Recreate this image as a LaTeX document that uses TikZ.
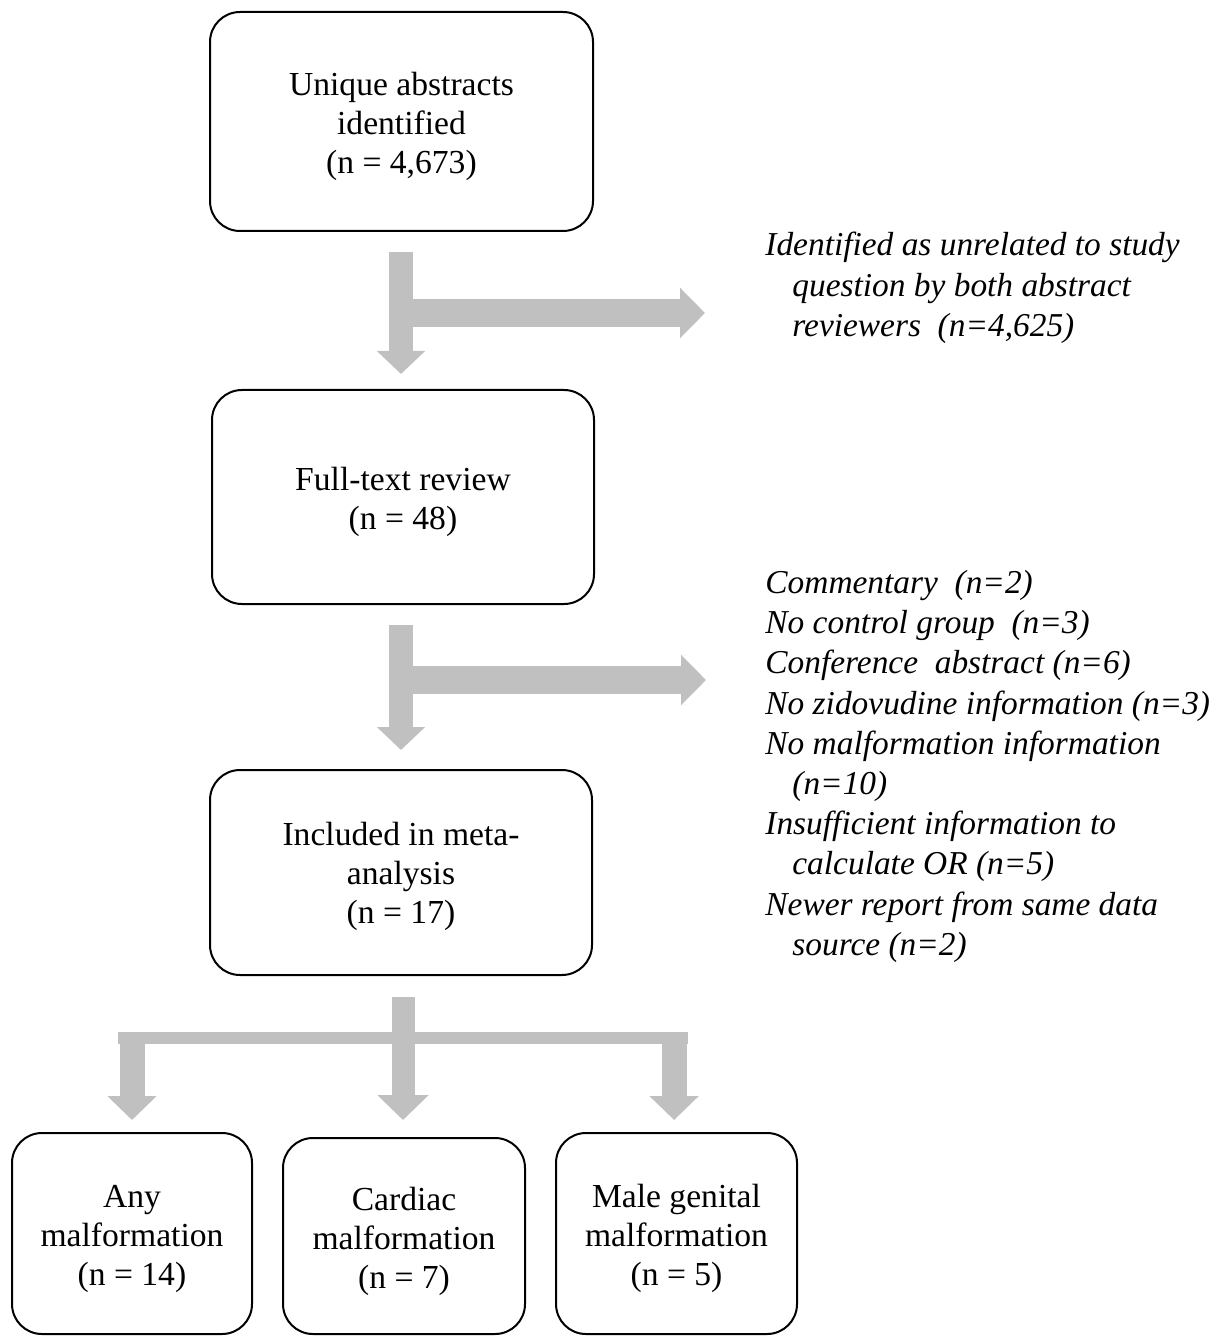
\documentclass[tikz,border=0pt]{standalone}
\usepackage{fontspec}
\setmainfont{Liberation Serif}
\usetikzlibrary{arrows.meta}
\definecolor{arrowgray}{RGB}{192,192,192}
\begin{document}
\begin{tikzpicture}[x=0.5pt,y=-0.5pt,
  box/.style={draw=black, line width=1pt, rounded corners=15pt, inner sep=0pt},
  boxtext/.style={align=center, inner sep=0pt, font=\fontsize{16.8}{19.5}\selectfont},
  note/.style={anchor=north west, align=left, inner sep=0pt,
    font=\fontsize{16.7}{20.1}\selectfont\itshape},
  vshaft/.style={draw=arrowgray, line width=12pt, -{Triangle[width=23.5pt,length=11.5pt]}},
  hshaft/.style={draw=arrowgray, line width=14pt, -{Triangle[width=24.5pt,length=12.5pt]}},
  legshaft/.style={draw=arrowgray, line width=12.5pt, -{Triangle[width=24pt,length=12pt]}},
  midshaft/.style={draw=arrowgray, line width=11.5pt, -{Triangle[width=25pt,length=12.5pt]}},
  barline/.style={draw=arrowgray, line width=6pt},
]
\useasboundingbox (0,0) rectangle (1218,1336);

% boxes
\node[box, minimum width=191.5pt, minimum height=109.5pt] (B1) at (401.5,121.5) {};
\node[box, minimum width=191pt, minimum height=107pt] (B2) at (403,497) {};
\node[box, minimum width=191pt, minimum height=102.5pt] (B3) at (401,872.5) {};
\node[box, minimum width=120pt, minimum height=100.5pt] (Ba) at (132,1233.5) {};
\node[box, minimum width=121pt, minimum height=98pt] (Bb) at (404,1236) {};
\node[box, minimum width=120.5pt, minimum height=100.5pt] (Bc) at (676.5,1233.5) {};

% box texts
\node[boxtext] (T1) at ([yshift=-2.3pt]B1.center) {Unique abstracts\\identified\\(n = 4,673)};
\node[boxtext] (T2) at ([yshift=-2.5pt]B2.center) {Full-text review\\(n = 48)};
\node[boxtext] (T3) at ([yshift=-2.2pt]B3.center) {Included in meta-\\analysis\\(n = 17)};
\node[boxtext] (Ta) at ([yshift=-2.5pt]Ba.center) {Any\\malformation\\(n = 14)};
\node[boxtext] (Tb) at ([yshift=-2.5pt]Bb.center) {Cardiac\\malformation\\(n = 7)};
\node[boxtext] (Tc) at ([yshift=-2.5pt]Bc.center) {Male genital\\malformation\\(n = 5)};

% notes
\node[note] (N1) at (765,232)
  {Identified as unrelated to study\\
   \hspace*{13.5pt}question by both abstract\\
   \hspace*{13.5pt}reviewers\ \ (n=4,625)};
\node[note] (N2) at (765,570)
  {Commentary\ \ (n=2)\\
   No control group\ \ (n=3)\\
   Conference\ \ abstract (n=6)\\
   No zidovudine information (n=3)\\
   No malformation information\\
   \hspace*{13.5pt}(n=10)\\
   Insufficient information to\\
   \hspace*{13.5pt}calculate OR (n=5)\\
   Newer report from same data\\
   \hspace*{13.5pt}source (n=2)};

% arrow 1
\coordinate (h1s) at (401,313);
\coordinate (h1e) at (705,313);
\draw[hshaft] (h1s) -- (h1e);
\draw[vshaft] ([yshift=-10pt]h1s |- B1.south) -- ([yshift=7.5pt]h1s |- B2.north);

% arrow 2
\coordinate (h2s) at (401,680);
\coordinate (h2e) at (706,680);
\draw[hshaft] (h2s) -- (h2e);
\draw[vshaft] ([yshift=-10pt]h2s |- B2.south) -- ([yshift=9.5pt]h2s |- B3.north);

% split arrow
\coordinate (barL) at (118,1038);
\coordinate (barR) at (688,1038);
\coordinate (legtop) at (403,1032);
\draw[barline] (barL) -- (barR);
\draw[legshaft] (Ba.north |- legtop) -- ([yshift=6pt]Ba.north);
\draw[legshaft] ([xshift=-1.2pt]Bc.north |- legtop) -- ([yshift=6pt,xshift=-1.2pt]Bc.north);
\draw[midshaft] ([yshift=-10.5pt]legtop |- B3.south) -- ([yshift=8.5pt]legtop |- Bb.north);
\end{tikzpicture}
\end{document}
